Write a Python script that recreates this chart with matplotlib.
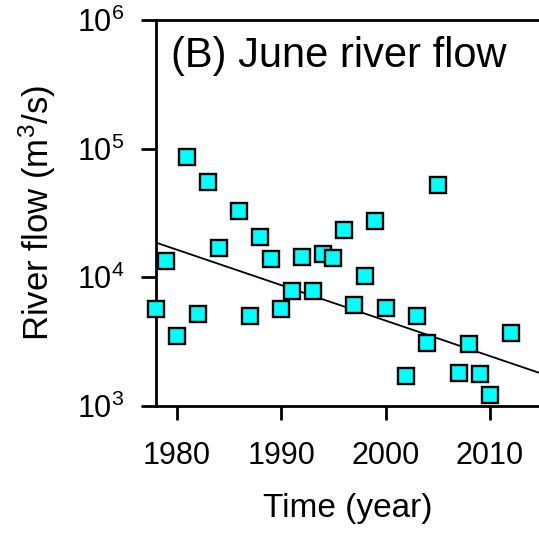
import numpy as np
import matplotlib
matplotlib.use("Agg")
import matplotlib.pyplot as plt
from matplotlib.ticker import FixedLocator, NullLocator

plt.rcParams['font.family'] = ['Liberation Sans', 'DejaVu Sans']
plt.rcParams['mathtext.fontset'] = 'custom'
plt.rcParams['mathtext.rm'] = 'Liberation Sans'
plt.rcParams['mathtext.it'] = 'Liberation Sans'

# June river flow by year (m^3/s)
years = [1978, 1979, 1980, 1981, 1982, 1983, 1984, 1986, 1987, 1988,
         1989, 1990, 1991, 1992, 1993, 1994, 1995, 1996, 1997, 1998,
         1999, 2000, 2002, 2003, 2004, 2005, 2007, 2008, 2009, 2010, 2012]
flow = [5700, 13300, 3500, 86700, 5200, 55400, 16800, 32800, 5000, 20600,
        14000, 5700, 7900, 14400, 7800, 15200, 14200, 23400, 6100, 10300,
        27400, 5800, 1700, 5000, 3100, 51900, 1800, 3050, 1780, 1220, 3700]

# log10-linear trend: log10(flow) = trend_log10_at_1978 + trend_slope * (year - 1978)
trend_log10_at_1978 = 4.270
trend_slope = -0.02756
trend_years = [1978.0, 2014.7]

x_ticks = [1980, 1990, 2000, 2010]
x_tick_labels = ['1980', '1990', '2000', '2010']
y_ticks = [1e3, 1e4, 1e5, 1e6]
y_tick_labels = [r'$\mathregular{10^{3}}$', r'$\mathregular{10^{4}}$',
                 r'$\mathregular{10^{5}}$', r'$\mathregular{10^{6}}$']

fig = plt.figure(figsize=(5.39, 5.35), dpi=100)
ax = fig.add_axes([0.2894, 0.2411, 0.7106, 0.7215])

ty = np.array(trend_years)
ax.plot(ty, 10 ** (trend_log10_at_1978 + trend_slope * (ty - 1978.0)),
        color='black', lw=1.3, zorder=2)

ax.plot(years, flow, linestyle='none', marker='s', markersize=11.5,
        markerfacecolor='#00FFFF', markeredgecolor='black',
        markeredgewidth=1.7, zorder=3, clip_on=False)

ax.set_yscale('log')
ax.set_xlim(1978.0, 2014.7)
ax.set_ylim(1e3, 1e6)

ax.xaxis.set_major_locator(FixedLocator(x_ticks))
ax.set_xticklabels(x_tick_labels)
ax.xaxis.set_minor_locator(NullLocator())
ax.yaxis.set_major_locator(FixedLocator(y_ticks))
ax.set_yticklabels(y_tick_labels)
ax.yaxis.set_minor_locator(NullLocator())

for side in ['left', 'bottom', 'top']:
    ax.spines[side].set_linewidth(2)
ax.spines['right'].set_visible(False)

ax.tick_params(axis='x', direction='out', length=10, width=2,
               labelsize=22, pad=15, top=False)
ax.tick_params(axis='y', direction='out', length=11, width=2,
               labelsize=22, pad=12, right=False)

ax.set_xlabel('Time (year)', fontsize=24)
ax.xaxis.set_label_coords(0.5, -0.225)
ax.set_ylabel('River flow (m$^3$/s)', fontsize=25)
ax.yaxis.set_label_coords(-0.255, 0.5)

ax.text(0.038, 0.879, '(B) June river flow', transform=ax.transAxes,
        fontsize=30, ha='left', va='baseline')

fig.savefig('out.png', dpi=100)
